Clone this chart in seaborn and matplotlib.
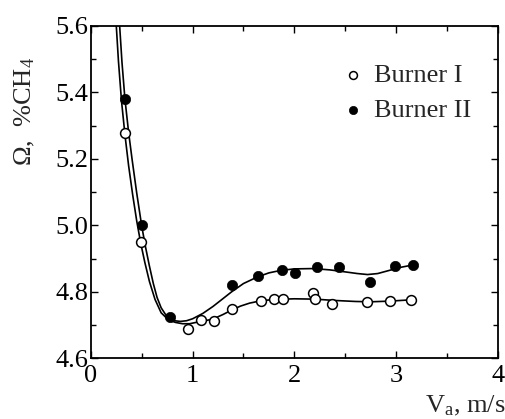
"""
Flammability limit vs. flow velocity for two burners
"""
import matplotlib
matplotlib.use("Agg")
import matplotlib.pyplot as plt
import seaborn as sns
from matplotlib.ticker import MultipleLocator

sns.set_style("ticks")
plt.rcParams["font.family"] = ["Liberation Serif", "DejaVu Serif"]
plt.rcParams["mathtext.fontset"] = "custom"
plt.rcParams["mathtext.rm"] = "Liberation Serif"
plt.rcParams["mathtext.it"] = "Liberation Serif"
plt.rcParams["mathtext.bf"] = "Liberation Serif:bold"

v_burner1 = [0.334, 0.488, 0.951, 1.078, 1.209, 1.383, 1.672, 1.799, 1.891,
             2.186, 2.200, 2.373, 2.717, 2.940, 3.143]
omega_burner1 = [5.279, 4.949, 4.687, 4.715, 4.713, 4.747, 4.773, 4.777, 4.777,
                 4.795, 4.778, 4.763, 4.770, 4.773, 4.775]

v_burner2 = [0.334, 0.498, 0.775, 1.383, 1.639, 1.875, 2.006, 2.225, 2.441,
             2.743, 2.989, 3.169]
omega_burner2 = [5.379, 5.001, 4.723, 4.821, 4.848, 4.866, 4.856, 4.876, 4.874,
                 4.831, 4.878, 4.881]

# ---- fitted curves ----
fit1_v = [0.249, 0.27, 0.30, 0.335, 0.37, 0.41, 0.45, 0.49, 0.53, 0.575, 0.63,
          0.69, 0.76, 0.83, 0.90, 0.97, 1.05, 1.12, 1.20, 1.30, 1.383, 1.47, 1.56,
          1.67, 1.80, 2.00, 2.20, 2.40, 2.60, 2.75, 2.94, 3.15]
fit1_o = [5.60, 5.495, 5.375, 5.27, 5.18, 5.092, 5.013, 4.945, 4.888, 4.831, 4.777,
          4.737, 4.716, 4.708, 4.704, 4.704, 4.709, 4.713, 4.718, 4.732, 4.745, 4.757,
          4.766, 4.773, 4.777, 4.779, 4.778, 4.774, 4.771, 4.770, 4.772, 4.776]

fit2_v = [0.282, 0.305, 0.334, 0.37, 0.405, 0.45, 0.498, 0.535, 0.573, 0.613, 0.65,
          0.69, 0.737, 0.77, 0.82, 0.88, 0.94, 1.00, 1.10, 1.20, 1.30, 1.383, 1.50,
          1.639, 1.75, 1.858, 2.00, 2.186, 2.35, 2.50, 2.62, 2.72, 2.82, 2.94, 3.05,
          3.169]
fit2_o = [5.60, 5.49, 5.38, 5.28, 5.197, 5.097, 5.000, 4.937, 4.880, 4.825, 4.783,
          4.752, 4.730, 4.720, 4.713, 4.711, 4.713, 4.719, 4.735, 4.756, 4.780, 4.800,
          4.825, 4.845, 4.857, 4.864, 4.869, 4.870, 4.866, 4.860, 4.855, 4.852, 4.855,
          4.865, 4.874, 4.881]

fig = plt.figure(figsize=(5.06, 4.19), dpi=100)
ax = fig.add_axes([0.1798, 0.1449, 0.8038, 0.7931])

sns.lineplot(x=fit1_v, y=fit1_o, sort=False, estimator=None, color="black", lw=1.2, ax=ax)
sns.lineplot(x=fit2_v, y=fit2_o, sort=False, estimator=None, color="black", lw=1.2, ax=ax)

sns.scatterplot(x=v_burner1, y=omega_burner1, marker="o", s=50, facecolor="white",
                edgecolor="black", linewidth=1.1, label="Burner I", ax=ax, zorder=3)
sns.scatterplot(x=v_burner2, y=omega_burner2, marker="o", s=55, color="black",
                edgecolor="black", linewidth=0.5, label="Burner II", ax=ax, zorder=3)

ax.set_xlim(0, 4)
ax.set_ylim(4.6, 5.6)
ax.xaxis.set_major_locator(MultipleLocator(1))
ax.xaxis.set_minor_locator(MultipleLocator(0.5))
ax.yaxis.set_minor_locator(MultipleLocator(0.1))
ax.set_yticks([4.6, 4.8, 5.0, 5.2, 5.4, 5.6])
ax.set_yticklabels(["4.6", "4.8", "5.0", "5.2", "5.4", "5.6"])
ax.tick_params(which="both", direction="in", top=True, right=True, width=1,
               labelsize=19, colors="black")
ax.tick_params(which="major", length=5)
ax.tick_params(which="minor", length=3.5)
ax.tick_params(axis="y", pad=2)
ax.tick_params(axis="x", pad=5)
for sp in ax.spines.values():
    sp.set_linewidth(1.3)
    sp.set_color("black")

ax.set_xlabel("")
ax.set_ylabel("")
fig.text(0.049, 0.733, "Ω,  %CH$_4$", rotation=90, ha="center", va="center", fontsize=19)
fig.text(0.998, 0.016, "V$_a$, m/s", ha="right", va="baseline", fontsize=19)

leg = ax.legend(loc="upper left", bbox_to_anchor=(0.611, 0.888), frameon=False,
                fontsize=19, handlelength=1.0, handletextpad=0.3, labelspacing=0.45,
                markerscale=0.8, borderpad=0, borderaxespad=0)

fig.savefig("out.png", dpi=100)
plt.close(fig)
